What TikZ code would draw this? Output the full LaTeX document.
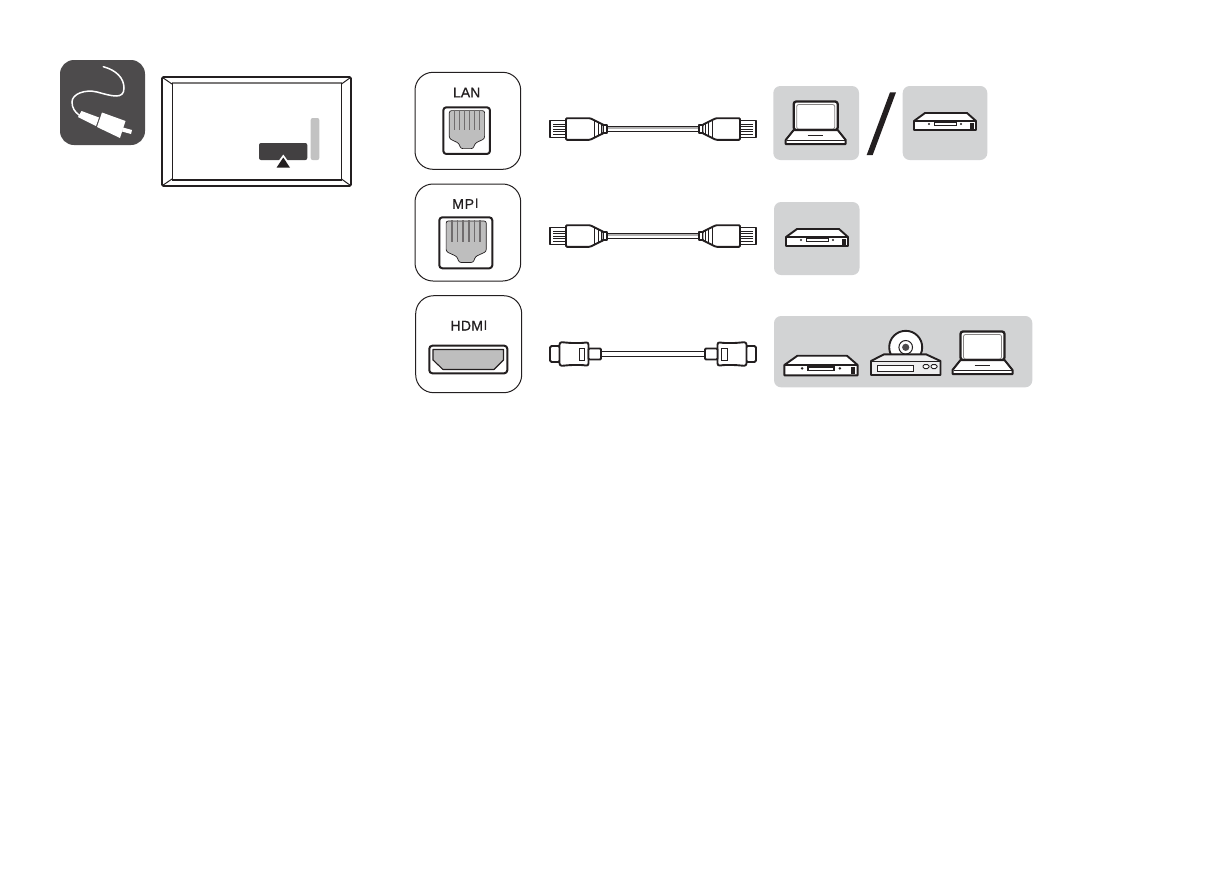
\documentclass[tikz,border=0pt]{standalone}
\usepackage{fontspec}
\setmainfont{Liberation Sans}
\newfontfamily\boldishfont{Liberation Sans}[FakeBold=0.5]
\definecolor{icondark}{HTML}{4D4B4C}
\definecolor{portink}{HTML}{231F20}
\definecolor{panelgrey}{HTML}{D2D3D4}
\definecolor{portgrey}{HTML}{BEBEBE}
\definecolor{bargrey}{HTML}{C2C2C2}
\tikzset{
  x=1pt,y=-1pt,
  portbox/.style={draw=portink,line width=1pt,rounded corners=18pt,fill=white},
  panel/.style={fill=panelgrey,rounded corners=7pt},
  ink/.style={draw=portink,line width=1.9pt,line join=round},
  portlabel/.style={font=\fontsize{14}{16}\boldishfont,text=portink,inner sep=0pt},
  pics/laptop/.style={code={
    \draw[ink,fill=white,line width=2.3pt,rounded corners=2.5pt] (-22,-42.5) rectangle (22,-14);
    \draw[line width=0.8pt,draw=portink!55,rounded corners=2pt] (-19,-39.5) rectangle (19,-15);
    \draw[ink,fill=white,line width=2pt] (-22,-14) -- (22,-14) -- (30,-4) -- (30,0) -- (-30,0) -- (-30,-4) -- cycle;
    \draw[portink,line width=1.4pt] (-8,-8.3) -- (7,-8.3);
    \draw[portink,line width=0.7pt] (-29,-4) -- (29,-4);
  }},
  pics/player/.style={code={
    \draw[ink,fill=white] (-20,-17) -- (22,-17) -- (31,-9) -- (31,0) -- (-31,0) -- (-31,-9) -- cycle;
    \fill[portink] (-31,-10) -- (31,-10) -- (31,-8.4) -- (-31,-8.4) -- cycle;
    \fill[portink] (-11.5,-8.4) rectangle (11.5,-3.6);
    \fill[white] (-10.5,-6.6) rectangle (10.5,-4.6);
    \fill[portink] (-16,-6) circle (1.2);
    \fill[portink] (16,-6) circle (1.2);
    \fill[portink] (25,-7.5) rectangle (29,-1.5);
  }},
  pics/rjjack/.style={code={
    \draw[ink,fill=white,line width=2pt,rounded corners=3pt] (0,0) rectangle (140,140);
    \fill[portgrey,rounded corners=2.2pt,draw=portink,line width=0.7pt]
      (18,10) -- (124,10) -- (124,94) -- (95,108) -- (90,124) -- (52,124) -- (47,108) -- (18,94) -- cycle;
    \foreach \px in {33,48,63,78,93,108}{
      \draw[portink!65,line width=1.5pt] (\px,8) -- (\px,68);
    }
  }},
  pics/rjplug/.style={code={
    \draw[ink,fill=white] (0,-8.5) rectangle (16,8.5);
    \foreach \py in {-5,-2.5,0,2.5,5}{\draw[portink,line width=0.7pt] (3,\py) -- (15,\py);}
    \draw[ink,fill=white,rounded corners=1pt] (16,-10.8) -- (40,-10.8) -- (53.5,-4.2) -- (53.5,4.2) -- (40,10.8) -- (16,10.8) -- cycle;
    \draw[portink,line width=0.8pt] (44,-8.6) -- (44,8.6) (48,-6.6) -- (48,6.6) (51,-5) -- (51,5);
    \draw[ink,fill=white] (53.5,-4.2) rectangle (57,4.2);
  }},
  pics/hdmiplug/.style={code={
    \draw[ink,fill=white,rounded corners=1.5pt] (0,-8) rectangle (10,8);
    \draw[ink,fill=white,rounded corners=2.5pt] (9.5,-12) -- (21,-11) -- (33,-11) -- (38.5,-12) -- (38.5,12) -- (33,11) -- (21,11) -- (9.5,12) -- cycle;
    \draw[ink,fill=white,rounded corners=1pt] (38.5,-5.5) rectangle (51,5.5);
    \draw[portink,line width=0.9pt] (29,-6) rectangle (34.3,6);
  }}
}
\begin{document}
\begin{tikzpicture}
\useasboundingbox (0,0) rectangle (1220,868);

% ---- cable icon
\fill[icondark,rounded corners=14pt] (60,60) rectangle (145,145);
\draw[white,line width=1.5pt,line cap=round] (103.3,66.7) .. controls (116,70) and (124,78) .. (124,88)
  .. controls (124,100) and (112,96) .. (97,92) .. controls (85,89) and (72,94) .. (72,102)
  .. controls (72,108) and (75,112) .. (79,115);
\fill[white] (78,117) -- (81.5,111) -- (99,117.5) -- (96,126) -- cycle;
\fill[white] (97,127) -- (102,112.5) -- (125.5,121) -- (120,138) -- cycle;
\fill[white] (123,127.5) -- (132,130) -- (131,134) -- (122,131.5) -- cycle;

% ---- panel outline
\draw[portink,line width=1.8pt,rounded corners=1.5pt,fill=white] (162,77) rectangle (351,186);
\draw[portink!60,line width=1.8pt] (172,83) -- (341.5,83);
\draw[portink,line width=0.9pt] (172,83) -- (172,179) -- (341.5,179) -- (341.5,83);
\draw[portink,line width=1pt] (162.5,77.5) -- (172,84) (350.5,77.5) -- (341.5,84) (162.5,185.5) -- (172,179) (350.5,185.5) -- (341.5,179);
\draw[portink,line width=1.8pt] (172,180.5) -- (341.5,180.5);
\fill[bargrey,rounded corners=2pt] (310.7,118) rectangle (319.3,160);
\fill[icondark!85!black,rounded corners=2pt] (259,143) rectangle (307.3,160);
\fill[white] (283.3,154.5) -- (293,168) -- (273.5,168) -- cycle;
\fill[portink] (283.3,157.5) -- (290,167.7) -- (276.5,167.7) -- cycle;

% ---- port boxes
\draw[portbox] (415,72.3) rectangle (520.7,169.3);
\node[portlabel] (lan) at (466.7,92.5) {LAN};
\pic[scale=0.3333] at (443.3,107.3) {rjjack};

\draw[portbox] (415,184) rectangle (520.7,281);
\node[portlabel] (mpi) at (465.5,204) {M\kern0.8pt P\kern0.8pt{\fontsize{14}{16}\selectfont\rmfamily I}};
\pic[xscale=0.3786,yscale=0.3643] at (439.3,217.3) {rjjack};

\draw[portbox] (415.7,295.7) rectangle (521.7,392.7);
\node[portlabel] (hdmi) at (469,325.7) {H\kern0.3pt D\kern0.3pt M\kern0.6pt{\fontsize{14}{16}\selectfont\rmfamily I}};
\draw[ink,fill=white,line width=2pt,rounded corners=3pt] (429.3,345.7) rectangle (507.3,373.3);
\fill[portgrey,draw=portink,line width=1.1pt,line join=round] (433,349.5) -- (503.5,349.5) -- (503.5,360) -- (494,369.5) -- (443,369.5) -- (433,360) -- cycle;

% ---- cables
\foreach \cy in {129,236}{
  \draw[portink,line width=1.4pt,fill=white] (606,\cy-2.4) rectangle (700,\cy+2.4);
  \draw[portink!35,line width=1.2pt] (606,\cy-1) -- (700,\cy-1);
  \pic at (550,\cy) {rjplug};
  \pic[xscale=-1] at (756,\cy) {rjplug};
}
\draw[portink,line width=1.4pt,fill=white] (600,351.6) rectangle (705,356.6);
\pic at (550,354) {hdmiplug};
\pic[xscale=-1] at (756,354) {hdmiplug};

% ---- device panels
\fill[panel] (773.3,86) rectangle (859,160);
\pic at (815.7,144) {laptop};
\fill[portink] (890,92.3) -- (896,92.3) -- (872.7,155) -- (866.7,155) -- cycle;
\fill[panel] (902.7,86) rectangle (987.3,160);
\pic at (945,130) {player};

\fill[panel] (774,202) rectangle (859.5,275);
\pic at (817,246) {player};

\fill[panel] (774,316) rectangle (1032.3,387.3);
\pic[xscale=1.18,yscale=1.15] at (821,375.3) {player};
% disc player
\draw[ink,fill=white] (905.7,347.3) circle (16.5);
\draw[portink,line width=1pt,fill=white] (905.7,347.3) circle (6.8);
\fill[icondark] (905.7,347.3) circle (3.6);
\draw[ink,fill=panelgrey!40!white] (884,354.3) -- (926,354.3) -- (940.5,361) -- (940.5,375) -- (871,375) -- (871,361) -- cycle;
\draw[portink,line width=1pt] (871.5,361) -- (940,361);
\draw[portink,line width=1pt,fill=white] (877,365.5) rectangle (913,371);
\draw[portink,line width=1pt,fill=white,rounded corners=1.5pt] (923,364.5) rectangle (929,368.5);
\draw[portink,line width=1pt,fill=white,rounded corners=1.5pt] (931,364.5) rectangle (937,368.5);
\pic at (982.5,374) {laptop};
\end{tikzpicture}
\end{document}
